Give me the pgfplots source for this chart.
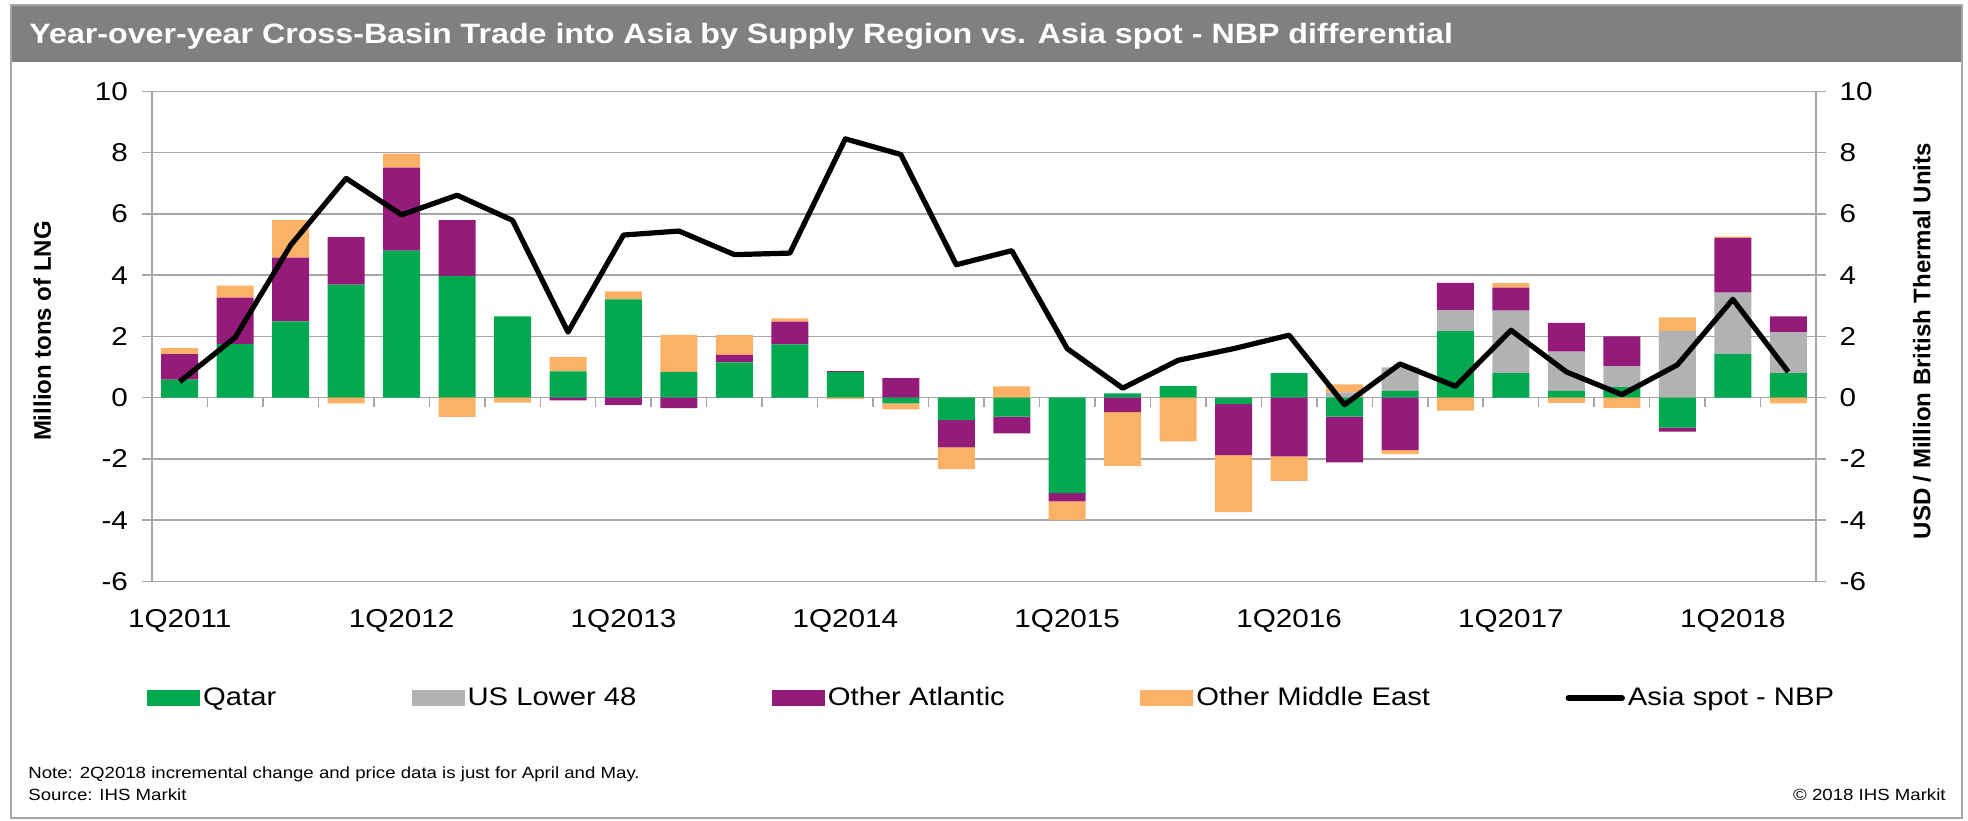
\documentclass[border=0pt]{standalone}
\usepackage{pgfplots}
\usepackage{pgfplotstable}
\usepackage{fontspec}
\pgfplotsset{compat=1.18}
\setmainfont{Liberation Sans}[FakeStretch=1.15]
\newfontfamily\plainsans{Liberation Sans}

\definecolor{qatar}{HTML}{00A850}
\definecolor{uslow}{HTML}{B1B2B4}
\definecolor{oatl}{HTML}{951B7B}
\definecolor{omide}{HTML}{FBB266}
\definecolor{titlebar}{HTML}{808080}
\definecolor{gridgray}{HTML}{A6A6A6}

% i = quarter index from 1Q2011; trade changes in Mt, spot in USD/MMBtu
\pgfplotstableread{
i  qatar  us    atl    me     spot
0   0.59  0.00  0.83   0.20   0.52
1   1.75  0.00  1.52   0.39   1.97
2   2.49  0.00  2.08   1.23   4.98
3   3.69  0.00  1.55  -0.19   7.16
4   4.80  0.00  2.71   0.46   5.97
5   3.97  0.00  1.83  -0.63   6.61
6   2.65  0.00  0.00  -0.16   5.79
7   0.86  0.00 -0.09   0.47   2.14
8   3.21  0.00 -0.24   0.26   5.31
9   0.84  0.00 -0.34   1.21   5.44
10  1.15  0.00  0.25   0.64   4.67
11  1.74  0.00  0.74   0.11   4.72
12  0.84  0.00  0.03  -0.05   8.45
13 -0.19  0.00  0.64  -0.19   7.94
14 -0.73  0.00 -0.89  -0.71   4.34
15 -0.62  0.00 -0.55   0.37   4.80
16 -3.12  0.00 -0.27  -0.61   1.60
17  0.14  0.00 -0.47  -1.76   0.31
18  0.38  0.00  0.00  -1.43   1.22
19 -0.21  0.00 -1.67  -1.86   1.60
20  0.80  0.00 -1.92  -0.80   2.04
21 -0.62  0.17 -1.49   0.26  -0.23
22  0.22  0.77 -1.71  -0.13   1.10
23  2.17  0.68  0.90  -0.42   0.37
24  0.80  2.04  0.75   0.15   2.20
25  0.22  1.28  0.94  -0.17   0.84
26  0.34  0.69  0.97  -0.33   0.10
27 -0.98  2.18 -0.13   0.44   1.07
28  1.42  2.01  1.79   0.04   3.21
29  0.80  1.34  0.51  -0.19   0.84
}\data

\pgfplotsset{
  base/.style={
    scale only axis, width=832pt, height=245pt,
    at={(76pt,119.3pt)}, anchor=south west,
    xmin=-0.5, xmax=29.5, ymin=-6, ymax=10,
    ytick={-6,-4,...,10},
    tick label style={font=\fontsize{12.9}{14}\selectfont},
    /pgf/number format/assume math mode=true,
  },
  barstack/.style={base, ybar stacked, bar width=0.667},
}

\begin{document}
\begin{tikzpicture}
\useasboundingbox (0,0) rectangle (984pt,410pt);
% frame and title bar
\fill[titlebar] (5.5pt,379pt) rectangle (981pt,407.5pt);
\draw[gridgray, line width=0.75pt] (5.5pt,1pt) rectangle (981pt,407.5pt);
\node[anchor=base west, text=white, inner sep=0pt, font=\fontsize{14}{16}\selectfont\bfseries]
  at (14.5pt,388pt) {Year-over-year Cross-Basin Trade into Asia by Supply Region vs. Asia spot - NBP differential};

% positive parts
\begin{axis}[barstack,
  axis line style={draw=gridgray, line width=0.75pt},
  ymajorgrids, grid style={gridgray, line width=0.75pt},
  xtick={0,4,...,28},
  xticklabels={1Q2011,1Q2012,1Q2013,1Q2014,1Q2015,1Q2016,1Q2017,1Q2018},
  xtick style={draw=none},
  xticklabel style={yshift=-5.5pt},
  ytick pos=left, tick align=outside, major tick length=5pt,
  ytick style={gridgray, line width=0.75pt},
  yticklabel style={xshift=-3.5pt},
  ylabel={Million tons of LNG},
  every axis y label/.style={at={(axis description cs:-0.066,0.511)}, rotate=90, anchor=center,
    font=\plainsans\fontsize{12}{14}\selectfont\bfseries},
]
\addplot[fill=qatar, draw=none] table[x=i, y expr={max(\thisrow{qatar},0)}] {\data};
\addplot[fill=uslow, draw=none] table[x=i, y expr={max(\thisrow{us},0)}] {\data};
\addplot[fill=oatl,  draw=none] table[x=i, y expr={max(\thisrow{atl},0)}] {\data};
\addplot[fill=omide, draw=none] table[x=i, y expr={max(\thisrow{me},0)}] {\data};
\pgfplotsinvokeforeach{-0.5,0.5,...,29.5}{
  \draw[gridgray, line width=0.75pt] (axis cs:#1,0) -- ++(0pt,-4.5pt);
}
\end{axis}

% negative parts
\begin{axis}[barstack, hide axis]
\addplot[fill=qatar, draw=none] table[x=i, y expr={min(\thisrow{qatar},0)}] {\data};
\addplot[fill=uslow, draw=none] table[x=i, y expr={min(\thisrow{us},0)}] {\data};
\addplot[fill=oatl,  draw=none] table[x=i, y expr={min(\thisrow{atl},0)}] {\data};
\addplot[fill=omide, draw=none] table[x=i, y expr={min(\thisrow{me},0)}] {\data};
\end{axis}

% spread line, right axis, legend
\begin{axis}[base,
  axis x line=none, axis y line*=right,
  axis line style={draw=gridgray, line width=0.75pt},
  tick align=outside, major tick length=5pt,
  ytick style={gridgray, line width=0.75pt},
  yticklabel style={xshift=3.3pt},
  ylabel={USD / Million British Thermal Units},
  every axis y label/.style={at={(axis description cs:1.0637,0.49)}, rotate=90, anchor=center,
    font=\plainsans\fontsize{12}{14}\selectfont\bfseries},
  legend columns=5,
  legend cell align=left,
  legend style={at={(axis description cs:0,0)}, anchor=west, xshift=-2.5pt, yshift=-58.3pt,
    draw=none, fill=none, inner sep=0pt,
    font=\fontsize{12.7}{14}\selectfont,
    nodes={inner sep=1.5pt},
    /tikz/every even column/.append style={column sep=66.3pt}},
]
\addlegendimage{legend image code/.code={\fill[qatar] (0pt,-3.7pt) rectangle (26pt,3.7pt);}}
\addlegendentry{Qatar}
\addlegendimage{legend image code/.code={\fill[uslow] (0pt,-3.7pt) rectangle (26pt,3.7pt);}}
\addlegendentry{US Lower 48}
\addlegendimage{legend image code/.code={\fill[oatl] (0pt,-3.7pt) rectangle (26pt,3.7pt);}}
\addlegendentry{Other Atlantic}
\addlegendimage{legend image code/.code={\fill[omide] (0pt,-3.7pt) rectangle (26pt,3.7pt);}}
\addlegendentry{Other Middle East}
\addplot[black, line width=2.6pt, line join=round,
  legend image code/.code={\draw[black, line width=2.6pt, line cap=round] (0pt,0pt) -- (27pt,0pt);}]
  table[x=i, y=spot] {\data};
\addlegendentry{Asia spot - NBP}
\end{axis}

% footnotes
\node[anchor=base west, inner sep=0pt, font=\fontsize{8.1}{10}\selectfont] at (14pt,21pt)
  {Note: 2Q2018 incremental change and price data is just for April and May.};
\node[anchor=base west, inner sep=0pt, font=\fontsize{8.1}{10}\selectfont] at (14pt,10pt)
  {Source: IHS Markit};
\node[anchor=base east, inner sep=0pt, font=\fontsize{8.1}{10}\selectfont] at (973pt,10pt)
  {© 2018 IHS Markit};
\end{tikzpicture}
\end{document}
